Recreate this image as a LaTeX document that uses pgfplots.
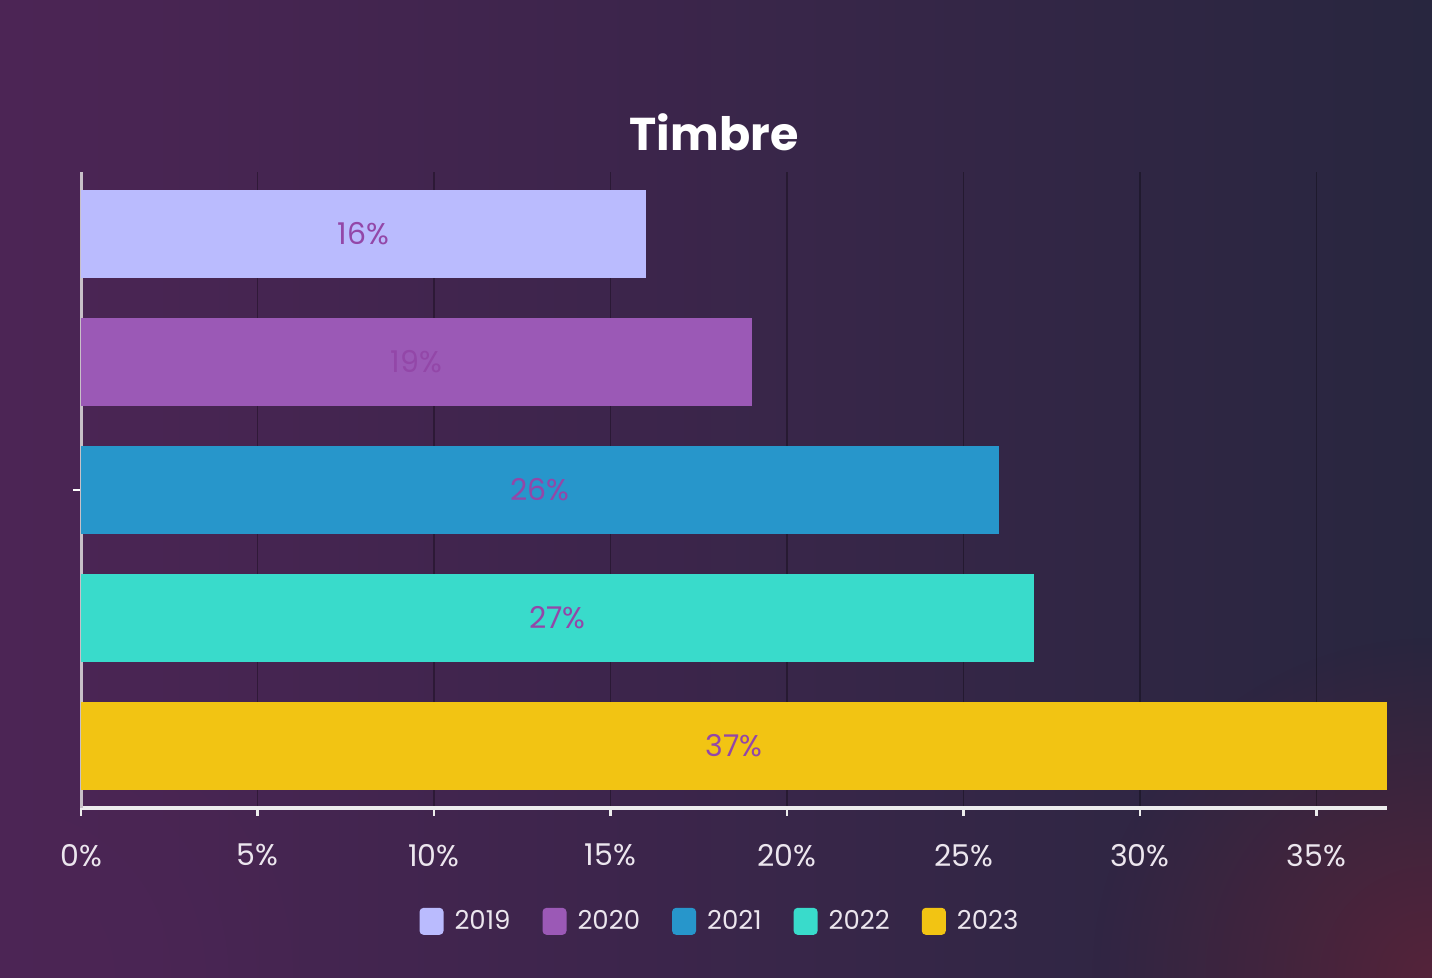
\documentclass[border=0pt]{standalone}
\usepackage{fontspec}
\setmainfont{Poppins}
\usepackage{pgfplots}
\pgfplotsset{compat=1.18}
\usetikzlibrary{fadings}
\definecolor{c19}{HTML}{BABBFE}
\definecolor{c20}{HTML}{9B59B6}
\definecolor{c21}{HTML}{2796CB}
\definecolor{c22}{HTML}{39DBCB}
\definecolor{c23}{HTML}{F2C413}
\definecolor{lbl}{HTML}{9347A8}
\definecolor{bgl}{HTML}{4C2555}
\definecolor{bgc}{HTML}{3C2850}
\definecolor{bgr}{HTML}{28263F}
\definecolor{bgred}{HTML}{55233A}
\definecolor{txt}{HTML}{ECE6EE}
\definecolor{yline}{HTML}{C8C0C8}
\tikzfading[name=fadeout, inner color=transparent!0, outer color=transparent!100]
\begin{document}
\begin{tikzpicture}
\shade[left color=bgl, middle color=bgc, right color=bgr] (0,0) rectangle (716pt,489pt);
\fill[bgred, path fading=fadeout] (716pt,0pt) circle (170pt);
\fill[bgl, path fading=fadeout] (0pt,0pt) circle (170pt);
\node[font=\bfseries\fontsize{23}{27}\selectfont, text=white] at (357pt,423pt) {Timbre};
\begin{axis}[
  at={(40.5pt,85pt)}, anchor=south west, scale only axis,
  width=653pt, height=318pt,
  xmin=0, xmax=37, ymin=-0.484, ymax=4.484,
  xtick={0,5,...,35}, ytick={2}, yticklabels={},
  xticklabel={\pgfmathprintnumber{\tick}\%},
  /pgf/number format/assume math mode=true,
  ticklabel style={font=\fontsize{15}{18}\selectfont, text=txt},
  xticklabel style={yshift=-10.5pt},
  axis lines*=left,
  x axis line style={-, draw=white!93!black, line width=2pt},
  y axis line style={-, draw=yline, line width=1.5pt},
  tick align=outside, major tick length=4pt,
  xtick style={draw=white!93!black, line width=1.2pt},
  ytick style={draw=white, line width=1.2pt},
  xmajorgrids, major x grid style={draw=black, opacity=0.3, line width=0.6pt},
  legend style={at={(0.49,-0.179)}, anchor=center, draw=none, fill=none,
    legend columns=5, font=\fontsize{13}{16}\selectfont, text=txt,
    /tikz/every odd column/.append style={column sep=3.5pt},
    /tikz/every even column/.append style={column sep=14pt}},
  mybar/.style={xbar, bar shift=0pt, bar width=0.6875, draw=none,
    legend image code/.code={\fill[rounded corners=2pt] (0pt,-6.5pt) rectangle (12pt,7pt);}},
]
\addplot[mybar, fill=c19] coordinates {(16,4)};
\addplot[mybar, fill=c20] coordinates {(19,3)};
\addplot[mybar, fill=c21] coordinates {(26,2)};
\addplot[mybar, fill=c22] coordinates {(27,1)};
\addplot[mybar, fill=c23] coordinates {(37,0)};
\addplot[draw=none, mark=none, forget plot, nodes near coords, point meta=explicit symbolic,
  every node near coord/.append style={anchor=center, font=\fontsize{15}{18}\selectfont, text=lbl}]
  coordinates {(8,4) [16\%] (9.5,3) [19\%] (13,2) [26\%] (13.5,1) [27\%] (18.5,0) [37\%]};
\legend{2019,2020,2021,2022,2023}
\end{axis}
\pgfresetboundingbox
\useasboundingbox (0,0) rectangle (716pt,489pt);
\end{tikzpicture}
\end{document}
